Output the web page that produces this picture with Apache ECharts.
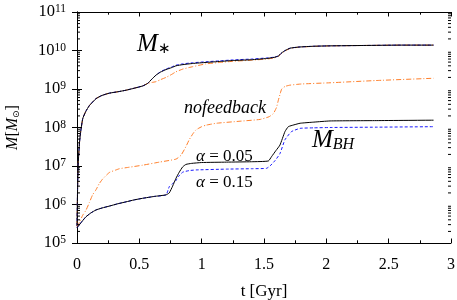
<!DOCTYPE html>
<html><head><meta charset="utf-8">
<script src="https://cdn.jsdelivr.net/npm/echarts@6/dist/echarts.min.js"></script>
<style>html,body{margin:0;padding:0;background:#fff}#c{width:457px;height:300px}</style>
</head><body><div id="c"></div>
<script>
// ---- Data (time in Gyr, mass in solar masses) ----
const tStar = [0,0.005,0.01,0.02,0.03,0.046,0.07,0.099,0.152,0.2,0.26,0.33,0.393,0.46,0.527,0.567,0.6,0.634,0.67,0.714,0.76,0.794,0.85,0.928,1.035,1.15,1.254,1.4,1.52,1.58,1.615,1.642,1.67,1.71,1.78,1.9,2.03,2.3,2.6,2.86];
const starA05 = [2.8e5,3.0e6,1.2e7,4.0e7,8.0e7,1.7e8,2.6e8,3.7e8,5.6e8,6.8e8,7.8e8,8.5e8,9.3e8,1.05e9,1.2e9,1.4e9,1.8e9,2.3e9,2.75e9,3.2e9,3.6e9,4.0e9,4.3e9,4.6e9,4.9e9,5.2e9,5.5e9,5.75e9,6.2e9,6.6e9,7.2e9,8.7e9,1.0e10,1.15e10,1.23e10,1.29e10,1.32e10,1.35e10,1.38e10,1.38e10];
const starA15 = [2.8e5,3.0e6,1.2e7,4.0e7,8.0e7,1.7e8,2.6e8,3.7e8,5.6e8,6.8e8,7.8e8,8.5e8,9.3e8,1.05e9,1.2e9,1.4e9,1.8e9,2.3e9,2.8e9,3.3e9,3.75e9,4.15e9,4.5e9,4.8e9,5.1e9,5.4e9,5.7e9,6.0e9,6.4e9,6.7e9,7.2e9,8.7e9,1.0e10,1.15e10,1.23e10,1.29e10,1.32e10,1.35e10,1.38e10,1.38e10];
const starNoFb = [2.8e5,3.0e6,1.2e7,4.0e7,8.0e7,1.7e8,2.6e8,3.7e8,5.6e8,6.8e8,7.8e8,8.5e8,9.3e8,1.05e9,1.2e9,1.4e9,1.48e9,1.55e9,1.75e9,2.0e9,2.4e9,2.8e9,3.3e9,3.8e9,4.5e9,4.9e9,5.25e9,5.6e9,6.0e9,6.4e9,7.0e9,8.5e9,9.8e9,1.13e10,1.22e10,1.28e10,1.32e10,1.35e10,1.38e10,1.38e10];

const tBH05 = [0,0.02,0.045,0.072,0.11,0.152,0.2,0.26,0.33,0.393,0.46,0.527,0.62,0.714,0.74,0.767,0.794,0.82,0.848,0.874,0.92,1.0,1.2,1.4,1.535,1.56,1.595,1.628,1.668,1.695,1.74,1.79,1.9,2.03,2.4,2.86];
const bhA05 = [2.5e5,3.0e5,3.8e5,4.8e5,6.0e5,7.2e5,8.1e5,9.1e5,1.05e6,1.17e6,1.32e6,1.45e6,1.62e6,1.78e6,2.0e6,3.0e6,4.8e6,6.9e6,9.5e6,1.1e7,1.17e7,1.23e7,1.26e7,1.29e7,1.35e7,1.74e7,2.5e7,3.5e7,7.8e7,1.05e8,1.17e8,1.29e8,1.38e8,1.48e8,1.51e8,1.55e8];

const tBH15 = [0,0.02,0.045,0.072,0.11,0.152,0.2,0.26,0.33,0.393,0.46,0.527,0.62,0.714,0.74,0.767,0.794,0.81,0.848,0.9,0.955,1.2,1.4,1.52,1.548,1.59,1.628,1.668,1.72,1.79,1.9,2.03,2.4,2.86];
const bhA15 = [2.5e5,3.0e5,3.8e5,4.8e5,6.0e5,7.2e5,8.1e5,9.1e5,1.05e6,1.17e6,1.32e6,1.45e6,1.62e6,1.78e6,2.9e6,3.5e6,4.2e6,5.2e6,6.9e6,7.6e6,7.9e6,8.3e6,8.5e6,8.7e6,1.0e7,1.4e7,2.1e7,4.8e7,7.8e7,9.5e7,9.8e7,1.0e8,1.02e8,1.05e8];

const tBHNoFb = [0,0.02,0.045,0.072,0.099,0.125,0.152,0.179,0.206,0.26,0.313,0.34,0.42,0.527,0.66,0.794,0.834,0.874,0.9,0.93,0.955,1.0,1.035,1.12,1.3,1.468,1.54,1.575,1.6,1.615,1.63,1.642,1.67,1.709,1.8,2.03,2.4,2.86];
const bhNoFb = [2.6e5,3.5e5,5.2e5,7.1e5,1.12e6,1.78e6,2.4e6,3.5e6,4.6e6,6.8e6,7.9e6,8.5e6,9.3e6,1.05e7,1.26e7,1.51e7,1.9e7,3.2e7,4.8e7,6.9e7,8.7e7,1.05e8,1.15e8,1.29e8,1.45e8,1.62e8,1.9e8,2.3e8,3.3e8,5.1e8,7.6e8,1.0e9,1.17e9,1.26e9,1.35e9,1.45e9,1.66e9,1.9e9];

const yDecades = [5,6,7,8,9,10,11];
const xTicks = [0,0.5,1,1.5,2,2.5,3];

// ---- helpers ----
const pairs = (t, v) => t.map((x, i) => [x, v[i]]);
const minorVals = [];
for (let d = 5; d < 11; d++) for (let k = 2; k <= 9; k++) minorVals.push(k * Math.pow(10, d));

const BLACK = '#000000', BLUE = '#1a1aff', ORANGE = '#ff7f2a';
const SERIF = 'Liberation Serif';

function line(name, data, color, type) {
  return { name, type: 'line', data, showSymbol: false, symbol: 'none', smooth: 0.15,
    lineStyle: { color, width: 1, type }, xAxisIndex: 0, yAxisIndex: 0, z: 3 };
}

function minorTickSeries(xVal, dir) {
  return { type: 'custom', xAxisIndex: 0, yAxisIndex: 0, silent: true, clip: false, z: 5,
    data: minorVals.map(v => [xVal, v]),
    renderItem: (params, api) => {
      const p = api.coord([api.value(0), api.value(1)]);
      return { type: 'line', shape: { x1: p[0], y1: p[1], x2: p[0] + dir * 3, y2: p[1] },
        style: { stroke: '#000', lineWidth: 1 } };
    } };
}

const chart = echarts.init(document.getElementById('c'), null, { renderer: 'canvas' });
const axisLineStyle = { show: true, lineStyle: { color: '#000', width: 1 } };
chart.setOption({
  animation: false,
  backgroundColor: '#fff',
  grid: { left: 77, right: 6, top: 12, bottom: 57, containLabel: false, outerBoundsMode: 'none' },
  xAxis: [
    { type: 'value', min: 0, max: 3, interval: 0.5, position: 'bottom',
      axisLine: axisLineStyle, splitLine: { show: false },
      axisTick: { show: true, inside: true, length: 4.5, lineStyle: { color: '#000' } },
      minorTick: { show: true, splitNumber: 2, length: 2.7, lineStyle: { color: '#000' } },
      axisLabel: { fontFamily: SERIF, fontSize: 16, color: '#000', margin: 14,
        formatter: v => (xTicks.indexOf(v) >= 0 ? String(v) : '') },
      name: 't [Gyr]', nameLocation: 'middle', nameGap: 40.5,
      nameTextStyle: { fontFamily: SERIF, fontSize: 17, color: '#000' } },
    { type: 'value', min: 0, max: 3, interval: 0.5, position: 'top',
      axisLine: axisLineStyle, splitLine: { show: false }, axisLabel: { show: false },
      axisTick: { show: true, inside: true, length: 4.5, lineStyle: { color: '#000' } },
      minorTick: { show: true, splitNumber: 2, length: 2.7, lineStyle: { color: '#000' } } }
  ],
  yAxis: [
    { type: 'log', logBase: 10, min: 1e5, max: 1e11, position: 'left',
      axisLine: axisLineStyle, splitLine: { show: false },
      axisTick: { show: true, inside: true, length: 5, lineStyle: { color: '#000' } },
      axisLabel: { margin: 11, color: '#000',
        formatter: v => '{b|10}{s|' + Math.round(Math.log10(v)) + '}',
        rich: { b: { fontFamily: SERIF, fontSize: 16.5, color: '#000' },
                s: { fontFamily: SERIF, fontSize: 11.5, color: '#000', verticalAlign: 'top', padding: [0,0,6,0] } } },
      name: '{i|M}{n|[}{i|M}{o|⊙}{n|]}', nameLocation: 'middle', nameGap: 56,
      nameTextStyle: { rich: {
        i: { fontFamily: SERIF, fontStyle: 'italic', fontSize: 16, color: '#000' },
        n: { fontFamily: SERIF, fontSize: 16, color: '#000' },
        o: { fontFamily: 'DejaVu Sans', fontSize: 9, color: '#000', verticalAlign: 'bottom' } } } },
    { type: 'log', logBase: 10, min: 1e5, max: 1e11, position: 'right',
      axisLine: axisLineStyle, splitLine: { show: false }, axisLabel: { show: false },
      axisTick: { show: true, inside: true, length: 5, lineStyle: { color: '#000' } } }
  ],
  series: [
    line('M* nofeedback', pairs(tStar, starNoFb), ORANGE, [5, 2, 1, 2]),
    line('M* alpha=0.15', pairs(tStar, starA15), BLUE, [3, 2]),
    line('M* alpha=0.05', pairs(tStar, starA05), BLACK, 'solid'),
    line('MBH nofeedback', pairs(tBHNoFb, bhNoFb), ORANGE, [5, 2, 1, 2]),
    line('MBH alpha=0.15', pairs(tBH15, bhA15), BLUE, [3, 2]),
    line('MBH alpha=0.05', pairs(tBH05, bhA05), BLACK, 'solid'),
    minorTickSeries(0, 1),
    minorTickSeries(3, -1)
  ],
  graphic: [
    { type: 'text', left: 137, top: 32, style: { text: '{i|M}{s|∗}', rich: {
        i: { fontFamily: SERIF, fontStyle: 'italic', fontSize: 25, fill: '#000' },
        s: { fontFamily: SERIF, fontSize: 15, fill: '#000', verticalAlign: 'bottom' } } } },
    { type: 'text', left: 312, top: 128, style: { text: '{i|M}{s|BH}', rich: {
        i: { fontFamily: SERIF, fontStyle: 'italic', fontSize: 25, fill: '#000' },
        s: { fontFamily: SERIF, fontStyle: 'italic', fontSize: 16, fill: '#000', verticalAlign: 'bottom' } } } },
    { type: 'text', left: 184, top: 99, style: { text: 'nofeedback',
        font: 'italic 18px "Liberation Serif"', fill: '#000' } },
    { type: 'text', left: 196, top: 148, style: { text: '{a|α} = 0.05', font: '17px "Liberation Serif"', fill: '#000',
        rich: { a: { fontFamily: SERIF, fontStyle: 'italic', fontSize: 17, fill: '#000' } } } },
    { type: 'text', left: 196, top: 174, style: { text: '{a|α} = 0.15', font: '17px "Liberation Serif"', fill: '#000',
        rich: { a: { fontFamily: SERIF, fontStyle: 'italic', fontSize: 17, fill: '#000' } } } }
  ]
});
</script></body></html>
